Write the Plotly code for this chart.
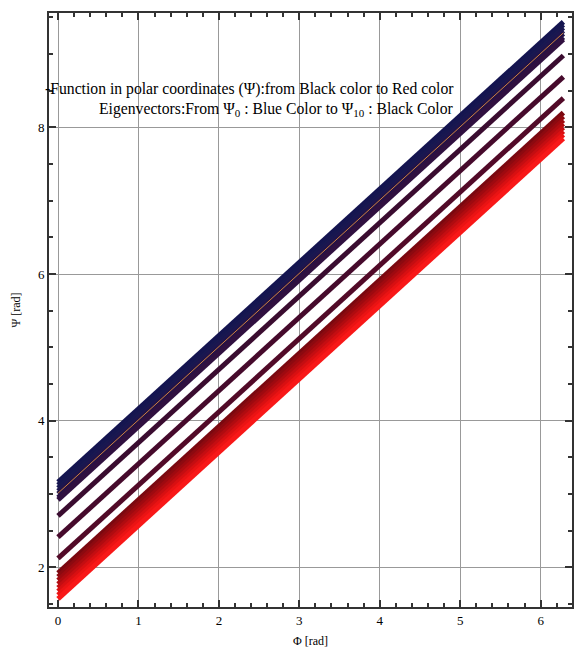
import plotly.graph_objects as go

# Data: straight lines Psi vs Phi, start (Phi=0) and end (Phi=2*pi)
phi_start = 0.0
phi_end = 6.283
psi_start = [3.16, 3.12, 3.08, 3.04, 3.00, 2.95, 2.92, 2.70, 2.41, 2.12,
             1.92, 1.87, 1.82, 1.77, 1.72, 1.67, 1.62, 1.57]
psi_end = [9.44, 9.40, 9.36, 9.32, 9.28, 9.23, 9.20, 8.98, 8.69, 8.40,
           8.20, 8.15, 8.10, 8.05, 8.00, 7.95, 7.90, 7.85]
line_colors = ["#141450", "#161650", "#181850", "#1c1650", "#201448", "#281244", "#301040",
               "#3a0c30", "#460a2c", "#520a28",
               "#7a0810", "#8c0a10", "#9e0a10", "#b00c10", "#c40e12", "#d81012", "#ea1414", "#f81818"]
thin_start = 3.01
thin_end = 9.29
thin_color = "#d08040"

x_ticks = [0, 1, 2, 3, 4, 5, 6]
y_ticks = [2, 4, 6, 8]

fig = go.Figure()
for s, e, c in zip(psi_start, psi_end, line_colors):
    fig.add_trace(go.Scatter(x=[phi_start, phi_end], y=[s, e], mode="lines",
                             line=dict(color=c, width=5), showlegend=False, hoverinfo="skip"))
fig.add_trace(go.Scatter(x=[phi_start, phi_end], y=[thin_start, thin_end], mode="lines",
                         line=dict(color=thin_color, width=1), showlegend=False, hoverinfo="skip"))

serif = "Liberation Serif"
L, R, T, B = 49, 2, 13, 50
W, H = 574, 657
pw, ph = W - L - R, H - T - B
fig.update_layout(
    width=W, height=H,
    margin=dict(l=L, r=R, t=T, b=B),
    paper_bgcolor="white", plot_bgcolor="white",
    font=dict(family=serif, size=13, color="black"),
    xaxis=dict(range=[-0.112, 6.39], tickvals=x_ticks, ticks="inside", ticklen=7, tickwidth=1.5,
               tickcolor="#333", showline=True, linecolor="#333", linewidth=2, mirror="ticks",
               showgrid=True, gridcolor="#999", gridwidth=1.3, zeroline=False, automargin=False,
               minor=dict(dtick=0.2, ticks="inside", ticklen=4, tickcolor="#333", showgrid=False),
               title=dict(text="Φ [rad]", font=dict(size=12), standoff=10),
               tickfont=dict(size=13, color="black")),
    yaxis=dict(range=[1.458, 9.56], tickvals=y_ticks, ticks="inside", ticklen=7, tickwidth=1.5,
               tickcolor="#333", showline=True, linecolor="#333", linewidth=2, mirror="ticks",
               showgrid=True, gridcolor="#999", gridwidth=1.3, zeroline=False, automargin=False,
               minor=dict(dtick=0.5, ticks="inside", ticklen=4, tickcolor="#333", showgrid=False),
               title=dict(text="Ψ [rad]", font=dict(size=12), standoff=15),
               tickfont=dict(size=13, color="black")),
)
fig.add_annotation(x=(456 - L) / pw, y=(H - B - 89) / ph, xref="paper", yref="paper",
                   xanchor="right", yanchor="middle", showarrow=False,
                   text="-Function in polar coordinates (Ψ):from Black color to Red color",
                   font=dict(family=serif, size=15.7, color="black"))
fig.add_annotation(x=(456 - L) / pw, y=(H - B - 110) / ph, xref="paper", yref="paper",
                   xanchor="right", yanchor="middle", showarrow=False,
                   text="Eigenvectors:From Ψ<sub>0</sub> : Blue Color to Ψ<sub>10</sub> : Black Color",
                   font=dict(family=serif, size=15.7, color="black"))

fig.write_html("out.html", config={"displayModeBar": False},
               post_script="document.body.style.margin='0px';")
